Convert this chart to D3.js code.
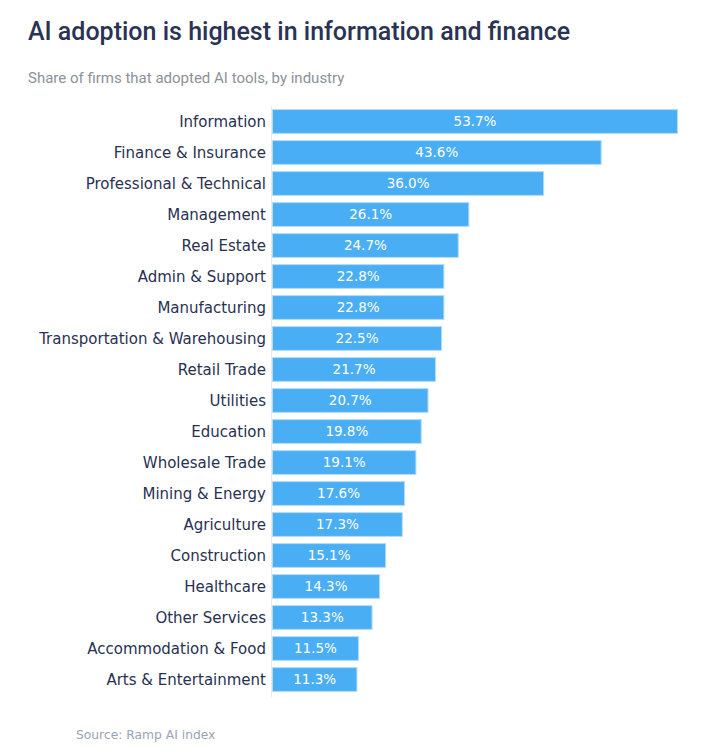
<!DOCTYPE html>
<html>
<head>
<meta charset="utf-8">
<script src="https://cdn.jsdelivr.net/npm/d3@7"></script>
<style>
  body { margin: 0; background: #fff; }
</style>
</head>
<body>
<div id="chart"></div>
<script>
// industries, top to bottom
var industries = ["Information", "Finance & Insurance", "Professional & Technical", "Management",
  "Real Estate", "Admin & Support", "Manufacturing", "Transportation & Warehousing", "Retail Trade",
  "Utilities", "Education", "Wholesale Trade", "Mining & Energy", "Agriculture", "Construction",
  "Healthcare", "Other Services", "Accommodation & Food", "Arts & Entertainment"];
var shares = [53.7, 43.6, 36.0, 26.1, 24.7, 22.8, 22.8, 22.5, 21.7, 20.7, 19.8, 19.1, 17.6, 17.3,
  15.1, 14.3, 13.3, 11.5, 11.3];

var W = 704, H = 752;
var margin = {top: 106, left: 272, right: 26, bottom: 57};

var svg = d3.select("#chart").append("svg")
    .attr("width", W)
    .attr("height", H);

svg.append("text")
    .text("AI adoption is highest in information and finance")
    .attr("x", 28)
    .attr("y", 40)
    .attr("font-family", "Roboto")
    .attr("font-weight", 500)
    .attr("font-size", 25)
    .attr("fill", "#2b3354");

svg.append("text")
    .text("Share of firms that adopted AI tools, by industry")
    .attr("x", 28)
    .attr("y", 83)
    .attr("font-family", "Roboto")
    .attr("font-size", 15)
    .attr("fill", "#8c919a");

var rows = industries.map(function(d, i) { return {name: d, v: shares[i]}; });

var x = d3.scaleLinear()
    .domain([0, d3.max(shares)])
    .range([margin.left, W - margin.right]);

var y = d3.scaleBand()
    .domain(industries)
    .range([margin.top, H - margin.bottom])
    .paddingInner(0.2)
    .paddingOuter(0.1);

var g = svg.append("g");

// thin base line
g.append("line")
    .attr("x1", margin.left - 0.5)
    .attr("x2", margin.left - 0.5)
    .attr("y1", margin.top)
    .attr("y2", H - margin.bottom + 2)
    .attr("stroke", "#e6e8ec")
    .attr("stroke-width", 1);

g.selectAll("rect.bar")
    .data(rows)
    .enter()
    .append("rect")
    .attr("class", "bar")
    .attr("x", x(0) + 0.5)
    .attr("y", function(d) { return y(d.name) + 0.5; })
    .attr("width", function(d) { return x(d.v) - x(0) - 1; })
    .attr("height", y.bandwidth() - 1)
    .attr("fill", "#4aaef5")
    .attr("stroke", "#b3dbfa")
    .attr("stroke-width", 1);

g.selectAll("text.val")
    .data(rows)
    .enter()
    .append("text")
    .attr("class", "val")
    .text(function(d) { return d.v.toFixed(1) + "%"; })
    .attr("x", function(d) { return (x(0) + x(d.v)) / 2; })
    .attr("y", function(d) { return y(d.name) + y.bandwidth() / 2; })
    .attr("dy", "0.36em")
    .attr("text-anchor", "middle")
    .attr("font-family", "DejaVu Sans")
    .attr("font-size", 13.5)
    .attr("fill", "#ffffff");

g.selectAll("text.cat")
    .data(rows)
    .enter()
    .append("text")
    .attr("class", "cat")
    .text(function(d) { return d.name; })
    .attr("x", margin.left - 6)
    .attr("y", function(d) { return y(d.name) + y.bandwidth() / 2; })
    .attr("dy", "0.36em")
    .attr("text-anchor", "end")
    .attr("font-family", "DejaVu Sans")
    .attr("font-size", 15)
    .attr("fill", "#283152");

svg.append("text")
    .text("Source: Ramp AI index")
    .attr("x", 76)
    .attr("y", 739)
    .attr("font-family", "DejaVu Sans")
    .attr("font-size", 12.3)
    .attr("fill", "#9ba3b6");
</script>
</body>
</html>
